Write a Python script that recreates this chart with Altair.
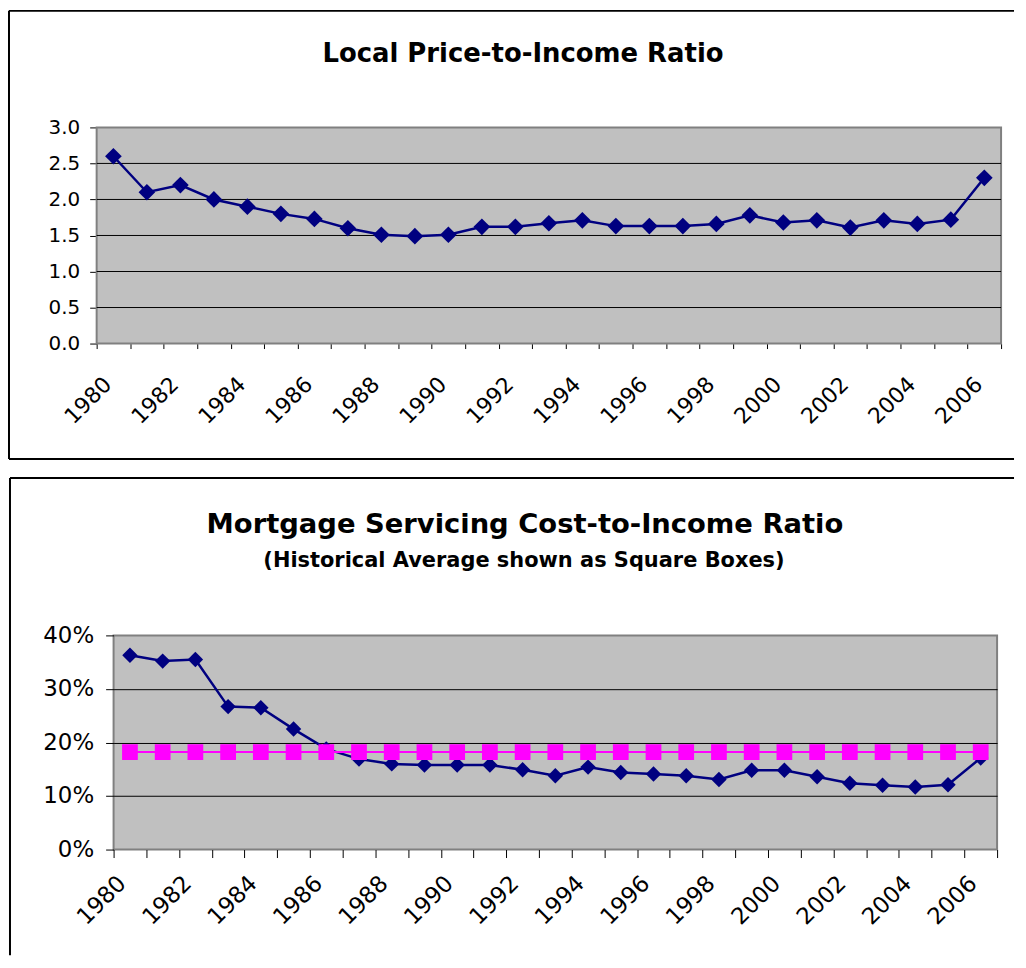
import altair as alt
import pandas as pd

years = list(range(1980, 2007))
price_to_income = [2.60, 2.10, 2.20, 2.00, 1.90, 1.80, 1.73, 1.60, 1.51, 1.49, 1.51, 1.62,
                   1.62, 1.67, 1.71, 1.63, 1.63, 1.63, 1.66, 1.78, 1.68, 1.71, 1.61, 1.71,
                   1.66, 1.72, 2.30]
mortgage_cost = [0.363, 0.352, 0.355, 0.267, 0.265, 0.225, 0.188, 0.169, 0.160, 0.158, 0.158,
                 0.158, 0.149, 0.138, 0.154, 0.144, 0.141, 0.138, 0.131, 0.148, 0.148, 0.136,
                 0.124, 0.120, 0.117, 0.121, 0.171]
historical_avg = [0.182] * 27
top_ticks = [0.0, 0.5, 1.0, 1.5, 2.0, 2.5, 3.0]
top_grid = [0.5, 1.0, 1.5, 2.0, 2.5]
bottom_ticks = [0.0, 0.1, 0.2, 0.3, 0.4]

top_title = "Local Price-to-Income Ratio"
bottom_title = "Mortgage Servicing Cost-to-Income Ratio"
bottom_subtitle = "(Historical Average shown as Square Boxes)"

df = pd.DataFrame({"year": years, "ratio": price_to_income,
                   "cost": mortgage_cost, "avg": historical_avg})
grid_df = pd.DataFrame({"ratio": top_grid})
one = pd.DataFrame({"k": [0]})

FONT = "DejaVu Sans"
NAVY = "#000080"
MAGENTA = "#FF00FF"
PLOT_BG = "#C0C0C0"
PLOT_EDGE = "#808080"


def x_enc(tick_size, label_size, pad, offset, rng=None):
    sc = dict(type="band", paddingInner=0, paddingOuter=0)
    if rng is not None:
        sc["range"] = rng
    return alt.X(
        "year:O",
        scale=alt.Scale(**sc),
        axis=alt.Axis(
            title=None, tickBand="extent", domain=False, grid=False,
            labelExpr="toNumber(datum.value) % 2 == 0 ? datum.label : ''",
            labelOverlap=False, labelAngle=-45, labelAlign="right",
            labelBaseline="middle", labelFont=FONT, labelFontSize=label_size,
            labelColor="black", tickColor="black", tickSize=tick_size,
            labelPadding=pad, labelOffset=offset,
        ),
    )


def frame(left, top, right, bottom, draw_bottom):
    base = alt.Chart(one)
    parts = [
        base.mark_rule(color="black", strokeWidth=2).encode(
            x=alt.value(left), y=alt.value(top), y2=alt.value(bottom)),
        base.mark_rule(color="black", strokeWidth=2).encode(
            x=alt.value(left), x2=alt.value(right), y=alt.value(top)),
    ]
    if draw_bottom:
        parts.append(base.mark_rule(color="black", strokeWidth=2).encode(
            x=alt.value(left), x2=alt.value(right), y=alt.value(bottom)))
    return parts


# ---------- top panel ----------
# view is aligned with the lower panel; the plot area reaches 17px further left
TW, TH, SH = 891, 217, 17
top_y = alt.Y(
    "ratio:Q",
    scale=alt.Scale(domain=[0, 3], nice=False),
    axis=alt.Axis(
        title=None, values=top_ticks, format=".1f", domain=False, grid=False,
        offset=SH, tickColor="black", tickSize=7, labelFont=FONT, labelFontSize=20,
        labelColor="black", labelPadding=10,
    ),
)
top_bg = alt.Chart(one).mark_rect(fill=PLOT_BG, stroke=PLOT_EDGE, strokeWidth=2).encode(
    x=alt.value(-SH), x2=alt.value(TW), y=alt.value(0), y2=alt.value(TH))
top_grid_rules = alt.Chart(grid_df).mark_rule(color="black", strokeWidth=1).encode(
    y=top_y, x=alt.value(-SH), x2=alt.value(TW))
top_base = alt.Chart(df).encode(x=x_enc(5, 22, 32, -6, [-SH, TW]), y=top_y)
top_line = top_base.mark_line(color=NAVY, strokeWidth=2.5)
top_pts = top_base.mark_point(shape="diamond", filled=True, color=NAVY, size=280, opacity=1)
top_title_mark = alt.Chart(one).mark_text(
    font=FONT, fontWeight="bold", fontSize=26, color="black", baseline="middle", align="center"
).encode(x=alt.value(411), y=alt.value(-74), text=alt.value(top_title))

top = alt.layer(
    top_bg, top_grid_rules, top_line, top_pts, top_title_mark,
    *frame(-105, -117, 904, 333, True)
).properties(
    width=TW, height=TH,
    view=alt.ViewBackground(fillOpacity=0, strokeOpacity=0),
)

# ---------- bottom panel ----------
BW, BH = 887, 215
bot_y_axis = alt.Axis(
    title=None, values=bottom_ticks, format=".0%", domain=False,
    grid=True, gridColor="black", gridWidth=1,
    gridOpacity={"condition": {"test": "datum.value <= 0 || datum.value >= 0.4", "value": 0}, "value": 1},
    tickColor="black", tickSize=8, labelFont=FONT, labelFontSize=23,
    labelColor="black", labelPadding=12,
)
bot_scale = alt.Scale(domain=[0, 0.4], nice=False)
bot_x = x_enc(8, 23, 22, -8)
bot_base = alt.Chart(df).encode(x=bot_x)
cost_line = bot_base.mark_line(color=NAVY, strokeWidth=2.5).encode(
    y=alt.Y("cost:Q", scale=bot_scale, axis=bot_y_axis))
cost_pts = bot_base.mark_point(shape="diamond", filled=True, color=NAVY, size=240, opacity=1).encode(
    y=alt.Y("cost:Q", scale=bot_scale, axis=bot_y_axis))
avg_line = bot_base.mark_line(color=MAGENTA, strokeWidth=2).encode(
    y=alt.Y("avg:Q", scale=bot_scale, axis=bot_y_axis))
avg_pts = bot_base.mark_point(shape="square", filled=True, color=MAGENTA, size=250, opacity=1).encode(
    y=alt.Y("avg:Q", scale=bot_scale, axis=bot_y_axis))
bot_title_mark = alt.Chart(one).mark_text(
    font=FONT, fontWeight="bold", fontSize=27.5, color="black", baseline="middle", align="center"
).encode(x=alt.value(413), y=alt.value(-111), text=alt.value(bottom_title))
bot_sub_mark = alt.Chart(one).mark_text(
    font=FONT, fontWeight="bold", fontSize=21, color="black", baseline="middle", align="center"
).encode(x=alt.value(412), y=alt.value(-75), text=alt.value(bottom_subtitle))

bottom = alt.layer(
    cost_line, cost_pts, avg_line, avg_pts, bot_title_mark, bot_sub_mark,
    *frame(-104, -158, 904, 321, False)
).properties(width=BW, height=BH)

chart = alt.vconcat(top, bottom, spacing=16).properties(
    padding=0, background="white"
).configure_view(
    fill=PLOT_BG, stroke=PLOT_EDGE, strokeWidth=2
)

chart.save("out.html", embed_options={"renderer": "svg", "actions": False})
